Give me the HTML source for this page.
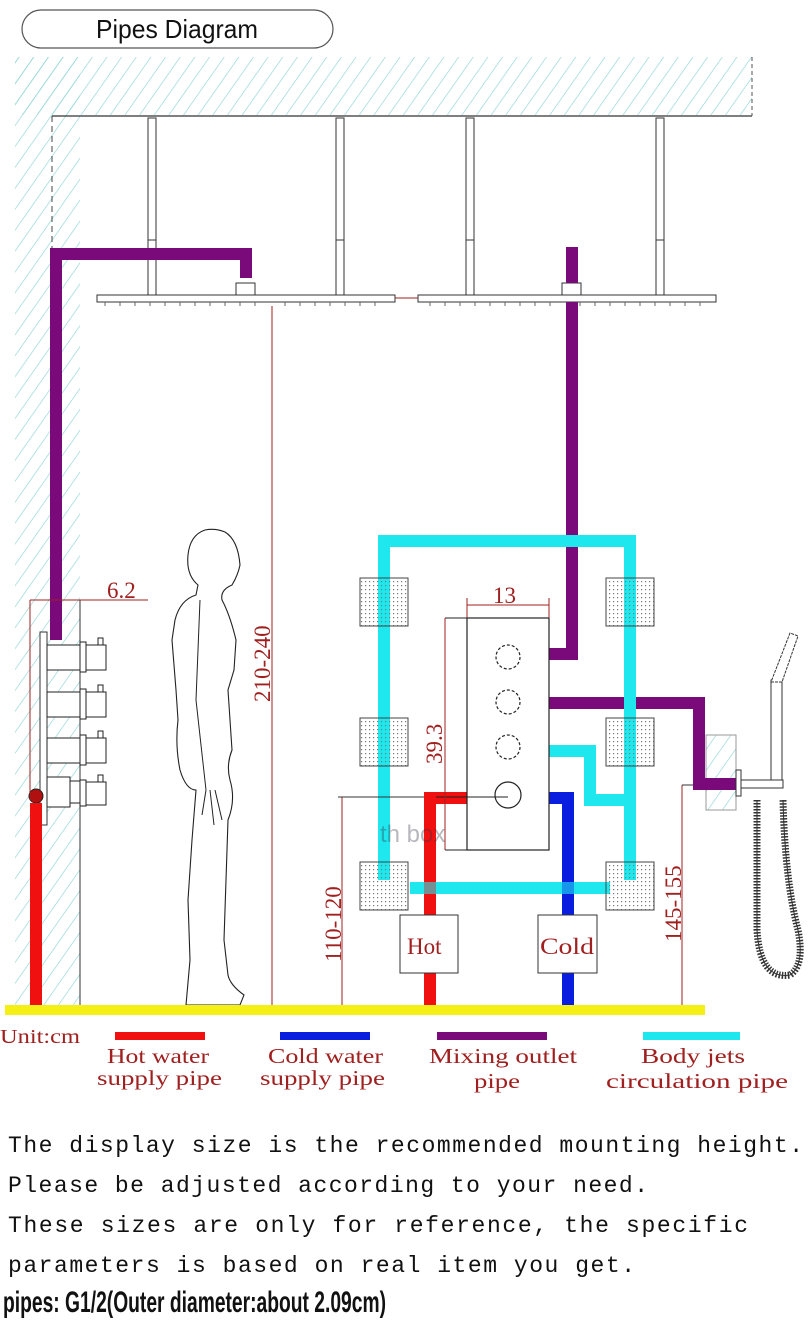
<!DOCTYPE html>
<html><head><meta charset="utf-8"><style>
html,body{margin:0;padding:0;background:#fff;}
svg{display:block;}
</style></head><body>
<svg width="810" height="1336" viewBox="0 0 810 1336" xmlns="http://www.w3.org/2000/svg">
<defs>
<pattern id="h" width="12" height="12" patternUnits="userSpaceOnUse" patternTransform="rotate(35)">
<line x1="0" y1="0" x2="0" y2="12" stroke="#8fd4d4" stroke-width="1.3"/>
</pattern>
<pattern id="dots" width="4" height="4" patternUnits="userSpaceOnUse">
<rect x="1" y="1" width="1.2" height="1.2" fill="#777"/>
</pattern>
</defs>
<rect width="810" height="1336" fill="#fff"/>
<rect x="22" y="10" width="311" height="38" rx="19" fill="#fff" stroke="#555" stroke-width="1.2"/>
<text x="96" y="38" font-family="Liberation Sans Narrow, Liberation Sans, sans-serif" font-size="26" textLength="162" lengthAdjust="spacingAndGlyphs" fill="#111">Pipes Diagram</text>
<rect x="15" y="57" width="737" height="58" fill="url(#h)"/>
<rect x="15" y="57" width="65" height="948" fill="url(#h)"/>
<line x1="52" y1="116" x2="752" y2="116" stroke="#333" stroke-width="1.2"/>
<line x1="752" y1="57" x2="752" y2="116" stroke="#555" stroke-dasharray="4,3"/>
<line x1="52" y1="116" x2="52" y2="600" stroke="#444" stroke-dasharray="6,4"/>
<line x1="80" y1="600" x2="80" y2="1005" stroke="#333"/>
<g fill="#fff" stroke="#333" stroke-width="1">
<rect x="148" y="118" width="8" height="122"/><rect x="148" y="240" width="8" height="55"/>
<rect x="336" y="118" width="8" height="122"/><rect x="336" y="240" width="8" height="55"/>
<rect x="466" y="118" width="8" height="122"/><rect x="466" y="240" width="8" height="55"/>
<rect x="656" y="118" width="8" height="122"/><rect x="656" y="240" width="8" height="55"/>
<rect x="97" y="295" width="298" height="7"/>
<rect x="418" y="295" width="298" height="7"/>
<rect x="236" y="283" width="19" height="12"/>
<rect x="562" y="283" width="19" height="12"/>
</g>
<g stroke="#666" stroke-width="1">
<path d="M105 302v4M120 302v4M135 302v4M150 302v4M165 302v4M180 302v4M195 302v4M210 302v4M225 302v4M240 302v4M255 302v4M285 302v4M300 302v4M315 302v4M330 302v4M345 302v4M360 302v4M375 302v4M430 302v4M445 302v4M460 302v4M475 302v4M490 302v4M505 302v4M520 302v4M535 302v4M550 302v4M580 302v4M595 302v4M610 302v4M625 302v4M640 302v4M655 302v4M670 302v4M685 302v4M700 302v4"/>
</g>
<g fill="#7a0a7a">
<rect x="50" y="248" width="12" height="392"/>
<rect x="50" y="248" width="202" height="12"/>
<rect x="240" y="248" width="12" height="30"/>
<rect x="566" y="247" width="12" height="36"/>
<rect x="566" y="302" width="12" height="358"/>
<rect x="549" y="648" width="29" height="12"/>
<rect x="549" y="697" width="156" height="12"/>
<rect x="693" y="697" width="12" height="93"/>
<rect x="693" y="778" width="47" height="12"/>
</g>
<line x1="272" y1="306" x2="272" y2="1005" stroke="#a02020" stroke-width="1"/>
<line x1="395" y1="298" x2="418" y2="298" stroke="#a02020"/>
<text transform="translate(270,702) rotate(-90)" font-family="Liberation Serif, serif" font-size="23" fill="#a02020">210-240</text>
<g fill="#1ee8ee">
<rect x="378" y="535" width="258" height="12"/>
<rect x="378" y="535" width="12" height="345"/>
<rect x="624" y="535" width="12" height="345"/>
<rect x="410" y="882" width="200" height="12"/>
<rect x="549" y="745" width="47" height="12"/>
<rect x="584" y="745" width="12" height="60"/>
<rect x="584" y="794" width="40" height="12"/>
</g>
<rect x="424" y="792" width="12" height="213" fill="#f01010"/>
<rect x="424" y="792" width="43" height="12" fill="#f01010"/>
<rect x="562" y="792" width="12" height="213" fill="#0a1ee0"/>
<rect x="549" y="792" width="25" height="12" fill="#0a1ee0"/>
<rect x="424" y="882" width="12" height="12" fill="#1ee8ee" opacity="0.6"/>
<rect x="562" y="882" width="12" height="12" fill="#1ee8ee" opacity="0.6"/>
<rect x="624" y="697" width="12" height="12" fill="#1ee8ee"/>
<g stroke="#444" stroke-width="1">
<rect x="360" y="578" width="48" height="48" fill="url(#dots)"/>
<rect x="360" y="718" width="48" height="48" fill="url(#dots)"/>
<rect x="360" y="862" width="48" height="48" fill="url(#dots)"/>
<rect x="606" y="578" width="48" height="48" fill="url(#dots)"/>
<rect x="606" y="718" width="48" height="48" fill="url(#dots)"/>
<rect x="606" y="862" width="48" height="48" fill="url(#dots)"/>
</g>
<rect x="467" y="618" width="82" height="232" fill="none" stroke="#222" stroke-width="1.2"/>
<g fill="none" stroke="#222" stroke-width="1.2" stroke-dasharray="3,2">
<circle cx="508" cy="657" r="12"/><circle cx="508" cy="702" r="12"/><circle cx="508" cy="747" r="12"/>
</g>
<circle cx="508" cy="795" r="13" fill="none" stroke="#222" stroke-width="1.2"/>
<line x1="436" y1="797" x2="508" y2="797" stroke="#222"/>
<line x1="467" y1="605" x2="549" y2="605" stroke="#a02020"/>
<line x1="467" y1="598" x2="467" y2="618" stroke="#a02020"/>
<line x1="549" y1="598" x2="549" y2="618" stroke="#a02020"/>
<text x="493" y="603" font-family="Liberation Serif, serif" font-size="23" fill="#a02020">13</text>
<line x1="445" y1="618" x2="467" y2="618" stroke="#222"/>
<line x1="445" y1="618" x2="445" y2="850" stroke="#a02020"/>
<line x1="445" y1="850" x2="467" y2="850" stroke="#222"/>
<text transform="translate(442,764) rotate(-90)" font-family="Liberation Serif, serif" font-size="23" fill="#a02020">39.3</text>
<line x1="338" y1="797" x2="424" y2="797" stroke="#333"/>
<line x1="342" y1="797" x2="342" y2="1005" stroke="#a02020"/>
<text transform="translate(341,962) rotate(-90)" font-family="Liberation Serif, serif" font-size="23" fill="#a02020">110-120</text>
<line x1="682" y1="785" x2="740" y2="785" stroke="#333"/>
<line x1="682" y1="785" x2="682" y2="1005" stroke="#a02020"/>
<text transform="translate(681,942) rotate(-90)" font-family="Liberation Serif, serif" font-size="23" fill="#a02020">145-155</text>
<rect x="400" y="915" width="58" height="58" fill="#fff" stroke="#333"/>
<text x="407" y="954" font-family="Liberation Serif, serif" font-size="23" fill="#a02020">Hot</text>
<rect x="538" y="915" width="59" height="58" fill="#fff" stroke="#333"/>
<text x="540" y="954" font-family="Liberation Serif, serif" font-size="23" fill="#a02020" textLength="54" lengthAdjust="spacingAndGlyphs">Cold</text>
<text x="380" y="842" font-family="Liberation Sans, sans-serif" font-size="24" fill="#334" opacity="0.35">th  box</text>
<rect x="706" y="735" width="30" height="75" fill="url(#h)" stroke="#999"/>
<rect x="693" y="778" width="43" height="12" fill="#7a0a7a"/>
<rect x="736" y="770" width="5" height="26" fill="#fff" stroke="#333"/>
<rect x="741" y="780" width="42" height="8" fill="#fff" stroke="#333"/>
<rect x="771" y="680" width="11" height="100" fill="#fff" stroke="#333"/>
<polygon points="771,682 782,682 798,636 790,633" fill="#fff" stroke="#333" stroke-dasharray="3,1"/>
<path d="M757 800 L757 930 Q760 980 790 975 Q805 965 798 930 Q785 880 783 800" fill="none" stroke="#333" stroke-width="7" stroke-dasharray="1.5,1.5"/>
<path d="M757 800 L757 930 Q760 980 790 975 Q805 965 798 930 Q785 880 783 800" fill="none" stroke="#333" stroke-width="1"/>
<rect x="40" y="632" width="7" height="193" fill="#fff" stroke="#333"/>
<g fill="#fff" stroke="#222" stroke-width="1">
<rect x="47" y="645" width="33" height="25"/><rect x="80" y="642" width="6" height="30"/><rect x="86" y="645" width="20" height="25"/><rect x="98" y="638" width="5" height="7"/>
<rect x="47" y="692" width="33" height="25"/><rect x="80" y="689" width="6" height="30"/><rect x="86" y="692" width="20" height="25"/><rect x="98" y="685" width="5" height="7"/>
<rect x="47" y="738" width="33" height="25"/><rect x="80" y="735" width="6" height="30"/><rect x="86" y="738" width="20" height="25"/><rect x="98" y="731" width="5" height="7"/>
<rect x="47" y="777" width="23" height="30"/><rect x="70" y="781" width="10" height="22"/><rect x="80" y="780" width="6" height="26"/><rect x="86" y="782" width="20" height="23"/><rect x="98" y="775" width="5" height="7"/>
</g>
<circle cx="36" cy="796" r="7" fill="#b01010" stroke="#222"/>
<rect x="30" y="803" width="12" height="202" fill="#f01010"/>
<line x1="30" y1="600" x2="30" y2="800" stroke="#a02020"/>
<line x1="30" y1="600" x2="148" y2="600" stroke="#a02020"/>
<text x="107" y="598" font-family="Liberation Serif, serif" font-size="23" fill="#a02020">6.2</text>
<path d="M205 530 Q190 535 188 555 Q186 575 198 585 L196 595 Q180 600 175 620 L172 640 L176 690 L178 720 Q175 745 180 770 Q186 790 196 790 L192 840 L188 900 L190 960 L186 1005 L240 1005 L244 995 Q230 985 228 975 L224 940 L226 880 L228 820 Q236 800 230 780 Q226 765 232 750 L230 720 L228 690 L234 670 L236 640 Q230 615 222 600 Q220 590 232 585 Q238 575 240 565 Q238 540 225 532 Q215 528 205 530 Z" fill="#fff" stroke="#222" stroke-width="1.1"/>
<path d="M200 600 L196 700 L206 790 M206 790 L202 815 M210 790 L214 825 M215 790 L222 820" fill="none" stroke="#222" stroke-width="1"/>
<rect x="5" y="1005" width="700" height="10" fill="#f4f016"/>
<text x="0" y="1043" font-family="Liberation Serif, serif" font-size="20" fill="#a02020" textLength="80" lengthAdjust="spacingAndGlyphs">Unit:cm</text>
<rect x="115" y="1032" width="90" height="8" fill="#f01010"/>
<rect x="280" y="1032" width="90" height="8" fill="#0a1ee0"/>
<rect x="437" y="1032" width="110" height="8" fill="#7a0a7a"/>
<rect x="643" y="1032" width="97" height="8" fill="#1ee8ee"/>
<g font-family="Liberation Serif, serif" font-size="21" fill="#a02020">
<text x="107" y="1063" textLength="102" lengthAdjust="spacingAndGlyphs">Hot water</text>
<text x="97" y="1085" textLength="125" lengthAdjust="spacingAndGlyphs">supply pipe</text>
<text x="268" y="1063" textLength="115" lengthAdjust="spacingAndGlyphs">Cold water</text>
<text x="260" y="1085" textLength="125" lengthAdjust="spacingAndGlyphs">supply pipe</text>
<text x="429" y="1063" textLength="148" lengthAdjust="spacingAndGlyphs">Mixing outlet</text>
<text x="474" y="1088" textLength="46" lengthAdjust="spacingAndGlyphs">pipe</text>
<text x="641" y="1063" textLength="104" lengthAdjust="spacingAndGlyphs">Body jets</text>
<text x="606" y="1088" textLength="182" lengthAdjust="spacingAndGlyphs">circulation pipe</text>
</g>
<g font-family="Liberation Mono, monospace" font-size="23" fill="#111">
<text x="8" y="1152" textLength="795" lengthAdjust="spacing">The display size is the recommended mounting height.</text>
<text x="8" y="1192" textLength="640" lengthAdjust="spacing">Please be adjusted according to your need.</text>
<text x="8" y="1232" textLength="740" lengthAdjust="spacing">These sizes are only for reference, the specific</text>
<text x="8" y="1272" textLength="627" lengthAdjust="spacing">parameters is based on real item you get.</text>
</g>
<text x="3" y="1312" font-family="Liberation Sans Narrow, Liberation Sans, sans-serif" font-weight="bold" font-size="30" fill="#111" textLength="383" lengthAdjust="spacingAndGlyphs">pipes: G1/2(Outer diameter:about 2.09cm)</text>
</svg>
</body></html>
